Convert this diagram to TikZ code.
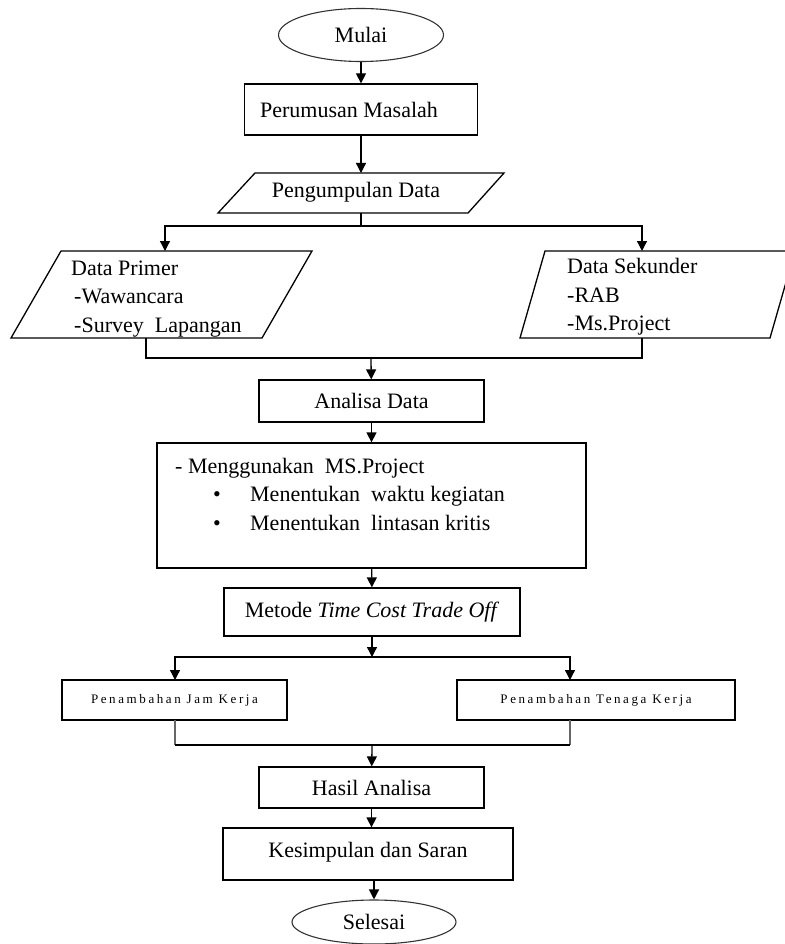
\documentclass[tikz,border=0pt]{standalone}
\usepackage{fontspec}
\setmainfont{Liberation Serif}
\newfontfamily\smallwide[LetterSpace=20]{Liberation Serif}
\usetikzlibrary{arrows.meta,shapes.geometric}

\newcommand{\bulletitem}[1]{\hspace*{38pt}\makebox[37pt][l]{\textbullet}#1}

\tikzset{
  box/.style={draw, line width=1.3pt, inner sep=2pt},
  smallbox/.style={box, font=\smallwide\fontsize{13}{15}\selectfont},
  dataio/.style={line width=1.3pt, line join=miter},
  terminal/.style={ellipse, draw=black!80, line width=1.1pt, inner sep=0pt},
  flow/.style={line width=1.3pt},
  flowarrow/.style={line width=1.3pt, -{Triangle[width=10pt,length=10pt]}},
  mergeline/.style={line width=2.8pt, draw=black!60},
  textblock/.style={anchor=west, align=left, inner sep=0pt},
}

\begin{document}
\begin{tikzpicture}[x=1pt,y=1pt,yscale=-1,font=\fontsize{22}{28.5}\selectfont]
\useasboundingbox (0,0) rectangle (784,944);

% input/output parallelograms
\draw[dataio] (218,213) -- (468,213) -- (504,173) -- (255,173) -- cycle;
\draw[dataio] (11,338) -- (262,338) -- (312,251) -- (61,251) -- cycle;
\draw[dataio] (520,338) -- (770,338) -- (795,251) -- (545,251) -- cycle;

% shapes
\node[terminal, minimum width=165pt, minimum height=53pt] (mulai) at (361,35) {Mulai};
\node[box, minimum width=233pt, minimum height=51pt] (perumusan) at (361,109.5) {Perumusan Masalah\hspace*{24pt}};
\node (pengumpulan) at (356,192) {Pengumpulan Data};
\node[box, minimum width=225pt, minimum height=42pt] (analisa) at (371.5,401) {Analisa Data};
\node[box, minimum width=429pt, minimum height=125pt] (msproject) at (371.5,505.5) {};
\node[box, minimum width=296pt, minimum height=48pt] (metode) at (372,612) {Metode \textit{Time Cost Trade Off}};
\node[smallbox, minimum width=225pt, minimum height=40pt] (jam) at (174.5,700) {Penambahan Jam Kerja};
\node[smallbox, minimum width=278pt, minimum height=40pt] (tenaga) at (596,700) {Penambahan Tenaga Kerja};
\node[box, minimum width=225pt, minimum height=41pt] (hasil) at (371.5,787.5) {Hasil Analisa};
\node[box, minimum width=290pt, minimum height=52pt] (kesimpulan) at (368,854) {\raisebox{8pt}{Kesimpulan dan Saran}};
\node[terminal, minimum width=164pt, minimum height=44pt] (selesai) at (374,922) {Selesai};

% Text Node
\node[textblock] (primer) at (71,299) {Data Primer\\ \hspace*{3pt}-Wawancara\\ \hspace*{3pt}-Survey\ \ Lapangan};
% Text Node
\node[textblock] (sekunder) at (567,297) {Data Sekunder\\ -RAB\\ -Ms.Project};
% Text Node
\node[textblock] (ms text) at (175,494) {- Menggunakan\ \ MS.Project\\ \bulletitem{Menentukan\ \ waktu kegiatan}\\ \bulletitem{Menentukan\ \ lintasan kritis}};

% branch points
\coordinate (pengumpulan in) at (361,173);
\coordinate (pengumpulan out) at (361,213);
\coordinate (split top) at (361,226);
\coordinate (primer in) at (165,251);
\coordinate (sekunder in) at (642,251);
\coordinate (primer out) at (146,338);
\coordinate (sekunder out) at (642,338);
\coordinate (join data) at (371,358);
\coordinate (split tco) at (372,657);
\coordinate (jam in) at (175,680);
\coordinate (tenaga in) at (570,680);
\coordinate (jam out) at (175,720);
\coordinate (tenaga out) at (570,720);
\coordinate (join tco) at (372,745);

% connectors
\draw[flowarrow] (mulai) -- (perumusan);
\draw[flowarrow] (perumusan) -- (pengumpulan in);
\draw[flow] (pengumpulan out) -- (split top);
\draw[flowarrow] (split top) -| (primer in);
\draw[flowarrow] (split top) -| (sekunder in);
\draw[flow] (primer out) |- (join data) -| (sekunder out);
\draw[flowarrow] (join data) -- (analisa);
\draw[flowarrow] (analisa) -- (msproject);
\draw[flowarrow] (msproject) -- (metode);
\draw[flowarrow] (metode) -- (split tco);
\draw[flowarrow] (split tco) -| (jam in);
\draw[flowarrow] (split tco) -| (tenaga in);
\draw[mergeline] (jam out) -- (jam out |- join tco);
\draw[mergeline] (tenaga out) -- (tenaga out |- join tco);
\draw[flow] (jam out |- join tco) -- (tenaga out |- join tco);
\draw[flowarrow] (join tco) -- (hasil);
\draw[flowarrow] (hasil.south) -- (hasil.south |- kesimpulan.north);
\draw[flowarrow] (kesimpulan.south -| selesai) -- (selesai);
\end{tikzpicture}
\end{document}
